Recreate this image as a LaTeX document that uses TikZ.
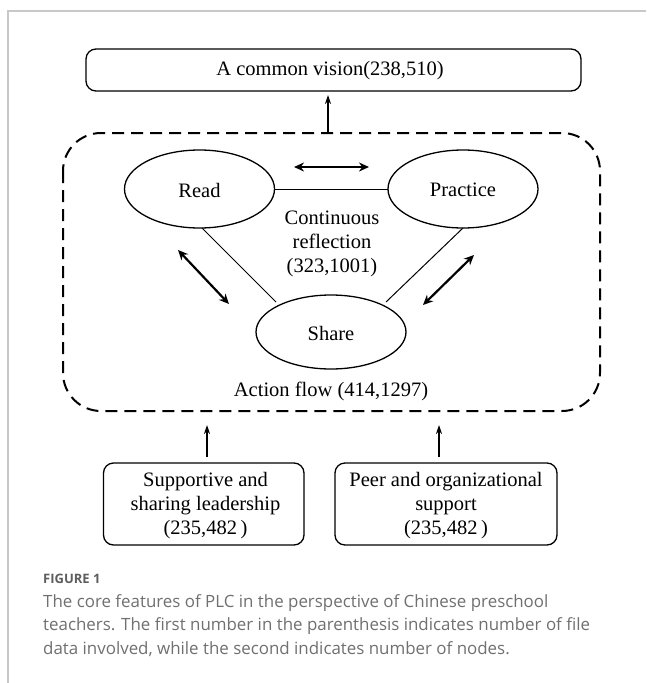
\documentclass[tikz,border=0pt]{standalone}
\usepackage{fontspec}
\setmainfont{Liberation Serif}
\newfontfamily\capfont{Open Sans}
\usetikzlibrary{shapes.geometric,arrows.meta}
\definecolor{framegray}{HTML}{C8C8C8}
\definecolor{capgray}{HTML}{707070}
\definecolor{figgray}{HTML}{5E5E5E}
\tikzset{
  lbl/.style={font=\fontsize{20.5}{24}\selectfont, align=center, inner sep=0pt},
  rbox/.style={draw, line width=1.3pt, rounded corners=10pt},
  oval/.style={draw, line width=1.3pt},
  conn/.style={line width=1pt},
  dbl/.style={line width=2.2pt, {Stealth[length=10pt,width=9pt]}-{Stealth[length=10pt,width=9pt]}},
  uparr/.style={line width=1.4pt, -{Stealth[length=9pt,width=6pt]}},
  captxt/.style={font=\capfont\fontsize{16.9}{20}\selectfont, text=capgray, anchor=west, inner sep=0pt}
}
\begin{document}
\begin{tikzpicture}[x=1pt,y=-1pt]
\useasboundingbox (0,0) rectangle (646,683);
\fill[white] (0,0) rectangle (646,683);
% frame
\draw[framegray, line width=2pt] (8,683) -- (8,11) -- (646,11);
% top box
\draw[rbox] (86,49) rectangle (581,91);
\node[lbl] (vision) at (330,71) {A common vision(238,510)};
\coordinate (visbot) at (328,95);
% dashed action box
\draw[line width=2pt, dash pattern=on 12pt off 7pt, rounded corners=38pt] (63,133) rectangle (600,411);
\coordinate (acttop) at (328,133);
\draw[uparr] (acttop) -- (visbot);
% ellipses
\draw[oval] (199.5,189) ellipse [x radius=75, y radius=39];
\node[lbl] (read) at (199.5,190) {Read};
\draw[oval] (463,189) ellipse [x radius=75, y radius=39];
\node[lbl] (practice) at (463,190) {Practice};
\draw[oval] (331,332) ellipse [x radius=75, y radius=37];
\node[lbl] (share) at (331,333) {Share};
% triangle lines
\coordinate (rR) at (274.5,189);
\coordinate (pL) at (388,189);
\draw[conn] (rR) -- (pL);
\coordinate (rB) at (202,228);
\coordinate (sL) at (276,302);
\draw[conn] (rB) -- (sL);
\coordinate (pB) at (463,228);
\coordinate (sR) at (386,302);
\draw[conn] (pB) -- (sR);
\node[lbl] (refl) at (332,244) {Continuous\\reflection\\(323,1001)};
% double arrows
\coordinate (a1) at (294,167); \coordinate (a2) at (369,167);
\draw[dbl] (a1) -- (a2);
\coordinate (b1) at (178,250); \coordinate (b2) at (229,304);
\draw[dbl] (b1) -- (b2);
\coordinate (c1) at (474,255); \coordinate (c2) at (423,305);
\draw[dbl] (c1) -- (c2);
\node[lbl] (flow) at (331,391) {Action flow (414,1297)};
% bottom boxes
\draw[rbox] (103.5,463) rectangle (304,545);
\node[lbl] (lead) at (205.5,506) {Supportive and\\sharing leadership\\(235,482\,)};
\draw[rbox] (335,463) rectangle (557,545);
\node[lbl] (peer) at (446,506) {Peer and organizational\\support\\(235,482\,)};
\coordinate (l1) at (207,457); \coordinate (l2) at (207,425);
\draw[uparr] (l1) -- (l2);
\coordinate (m1) at (439,457); \coordinate (m2) at (439,425);
\draw[uparr] (m1) -- (m2);
% caption
\node[anchor=west, inner sep=0pt, font=\capfont\bfseries\fontsize{13}{16}\selectfont, text=figgray] (fig) at (43,579) {FIGURE 1};
\node[captxt] (cap1) at (43,603) {The core features of PLC in the perspective of Chinese preschool};
\node[captxt] (cap2) at (43,626) {teachers. The first number in the parenthesis indicates number of file};
\node[captxt] (cap3) at (43,649) {data involved, while the second indicates number of nodes.};
\end{tikzpicture}
\end{document}
